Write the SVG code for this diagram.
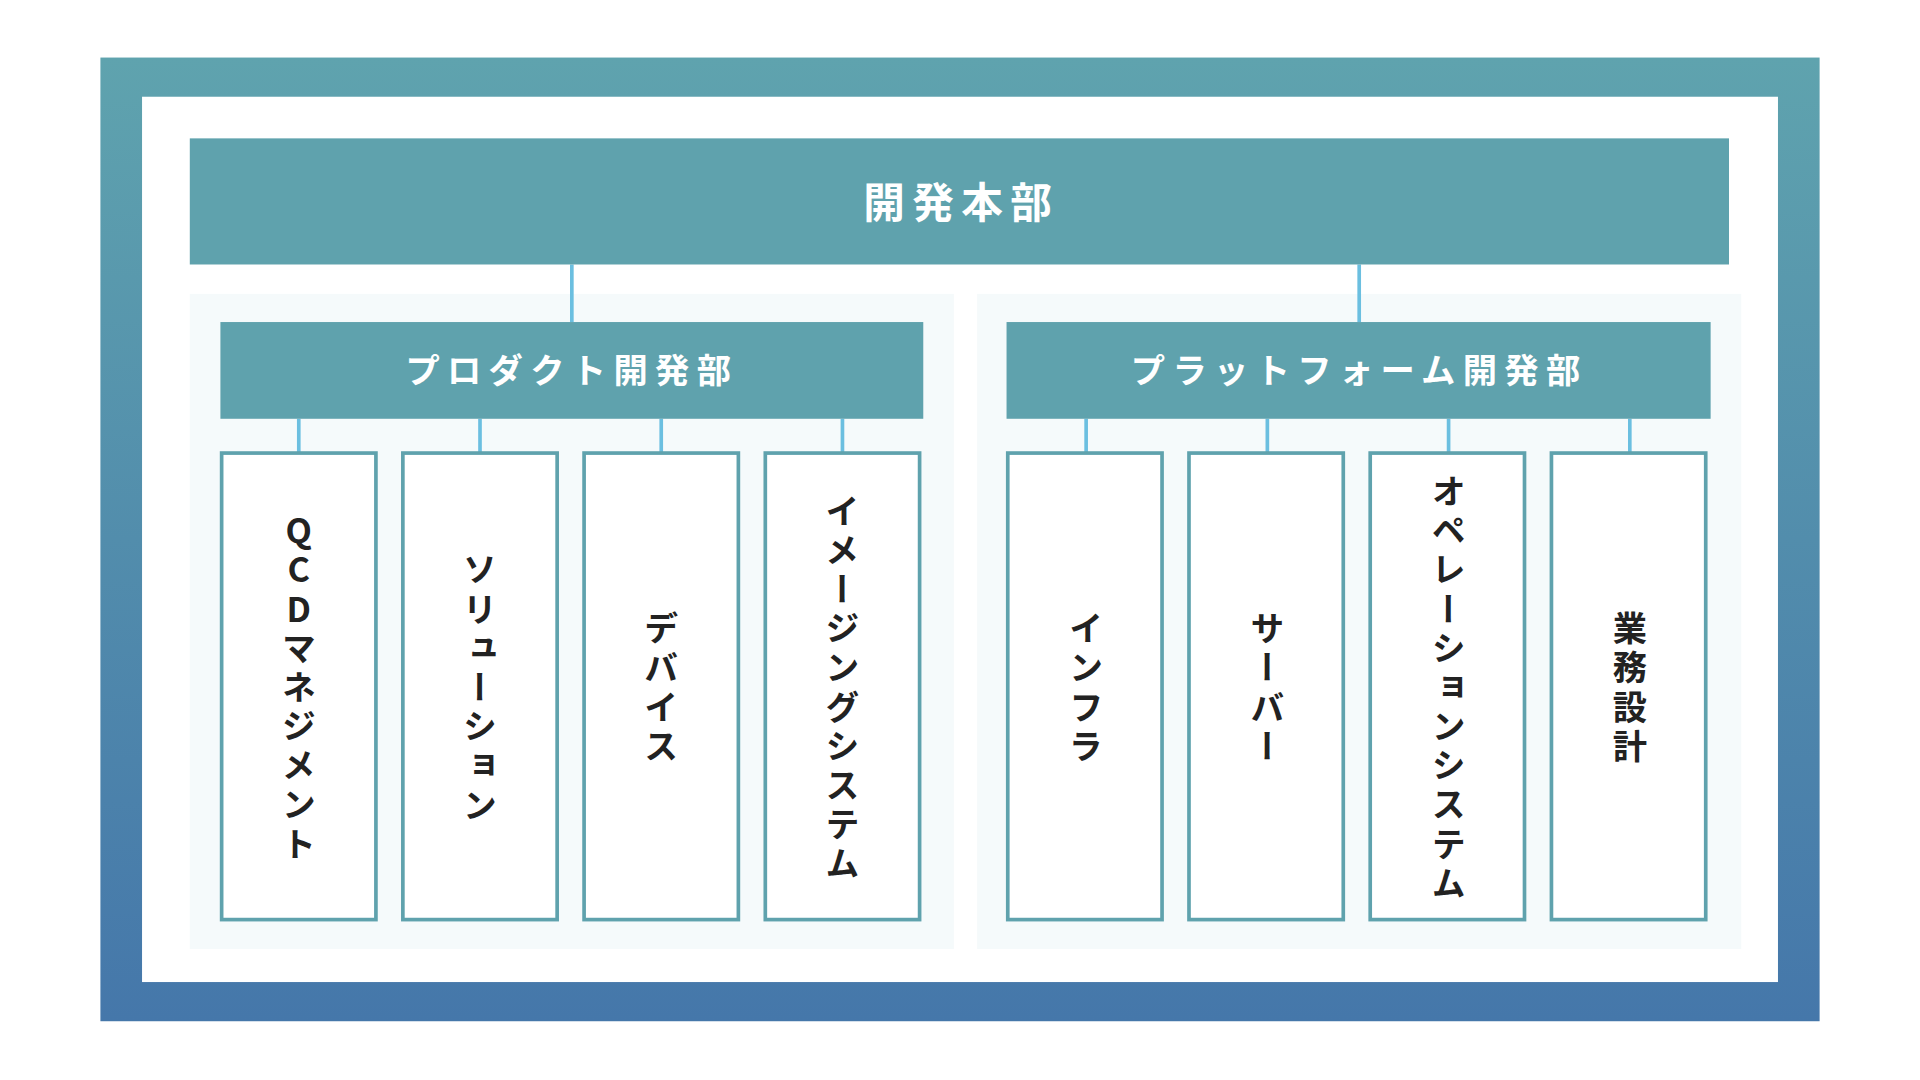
<svg xmlns="http://www.w3.org/2000/svg" width="1920" height="1080" viewBox="0 0 1920 1080">
<defs>
<linearGradient id="fr" x1="0" y1="0" x2="0" y2="1"><stop offset="0" stop-color="#5fa3ae"/><stop offset="1" stop-color="#4577aa"/></linearGradient>
<style>
.hd{fill:#5fa2ad}
.ht{fill:#fff;font-family:"Noto Sans CJK JP",sans-serif;font-weight:700;text-anchor:middle}
.pn{fill:#f5fafb}
.bx{fill:#fff;stroke:#5fa2ad;stroke-width:3}
.vt{fill:#222;font-family:"Noto Sans CJK JP",sans-serif;font-weight:700;font-size:28px;letter-spacing:4px;writing-mode:vertical-rl;text-orientation:upright;text-anchor:middle}
.cn{stroke:#6bbfe0;stroke-width:3}
</style>
</defs>
<g transform="scale(1.2245)">
<rect x="82" y="47" width="1404" height="787" fill="url(#fr)"/>
<rect x="116" y="79" width="1336" height="723" fill="#fff"/>
<rect class="pn" x="155" y="240" width="624" height="535"/>
<rect class="pn" x="798" y="240" width="624" height="535"/>
<g id="connectors">
<line class="cn" x1="467" y1="216" x2="467" y2="263"/>
<line class="cn" x1="1110" y1="216" x2="1110" y2="263"/>
<line class="cn" x1="244" y1="342" x2="244" y2="370"/>
<line class="cn" x1="392" y1="342" x2="392" y2="370"/>
<line class="cn" x1="540" y1="342" x2="540" y2="370"/>
<line class="cn" x1="688" y1="342" x2="688" y2="370"/>
<line class="cn" x1="887" y1="342" x2="887" y2="370"/>
<line class="cn" x1="1035" y1="342" x2="1035" y2="370"/>
<line class="cn" x1="1183" y1="342" x2="1183" y2="370"/>
<line class="cn" x1="1331" y1="342" x2="1331" y2="370"/>
</g>
<g id="hq"><rect class="hd" x="155" y="113" width="1257" height="103"/><text class="ht" x="785" y="178" font-size="34" letter-spacing="6">開発本部</text></g>
<g id="prod"><rect class="hd" x="180" y="263" width="574" height="79"/><text class="ht" x="467" y="313" font-size="28" letter-spacing="6">プロダクト開発部</text></g>
<g id="plat"><rect class="hd" x="822" y="263" width="575" height="79"/><text class="ht" x="1110" y="313" font-size="28" letter-spacing="6">プラットフォーム開発部</text></g>
<g id="n1"><rect class="bx" x="181" y="370" width="126" height="381"/><text class="vt" x="244" y="563">QCDマネジメント</text></g>
<g id="n2"><rect class="bx" x="329" y="370" width="126" height="381"/><text class="vt" x="392" y="563">ソリューション</text></g>
<g id="n3"><rect class="bx" x="477" y="370" width="126" height="381"/><text class="vt" x="540" y="563">デバイス</text></g>
<g id="n4"><rect class="bx" x="625" y="370" width="126" height="381"/><text class="vt" x="688" y="563">イメージングシステム</text></g>
<g id="n5"><rect class="bx" x="823" y="370" width="126" height="381"/><text class="vt" x="887" y="563">インフラ</text></g>
<g id="n6"><rect class="bx" x="971" y="370" width="126" height="381"/><text class="vt" x="1035" y="563">サーバー</text></g>
<g id="n7"><rect class="bx" x="1119" y="370" width="126" height="381"/><text class="vt" x="1183" y="563">オペレーションシステム</text></g>
<g id="n8"><rect class="bx" x="1267" y="370" width="126" height="381"/><text class="vt" x="1331" y="563">業務設計</text></g>
</g>
</svg>
